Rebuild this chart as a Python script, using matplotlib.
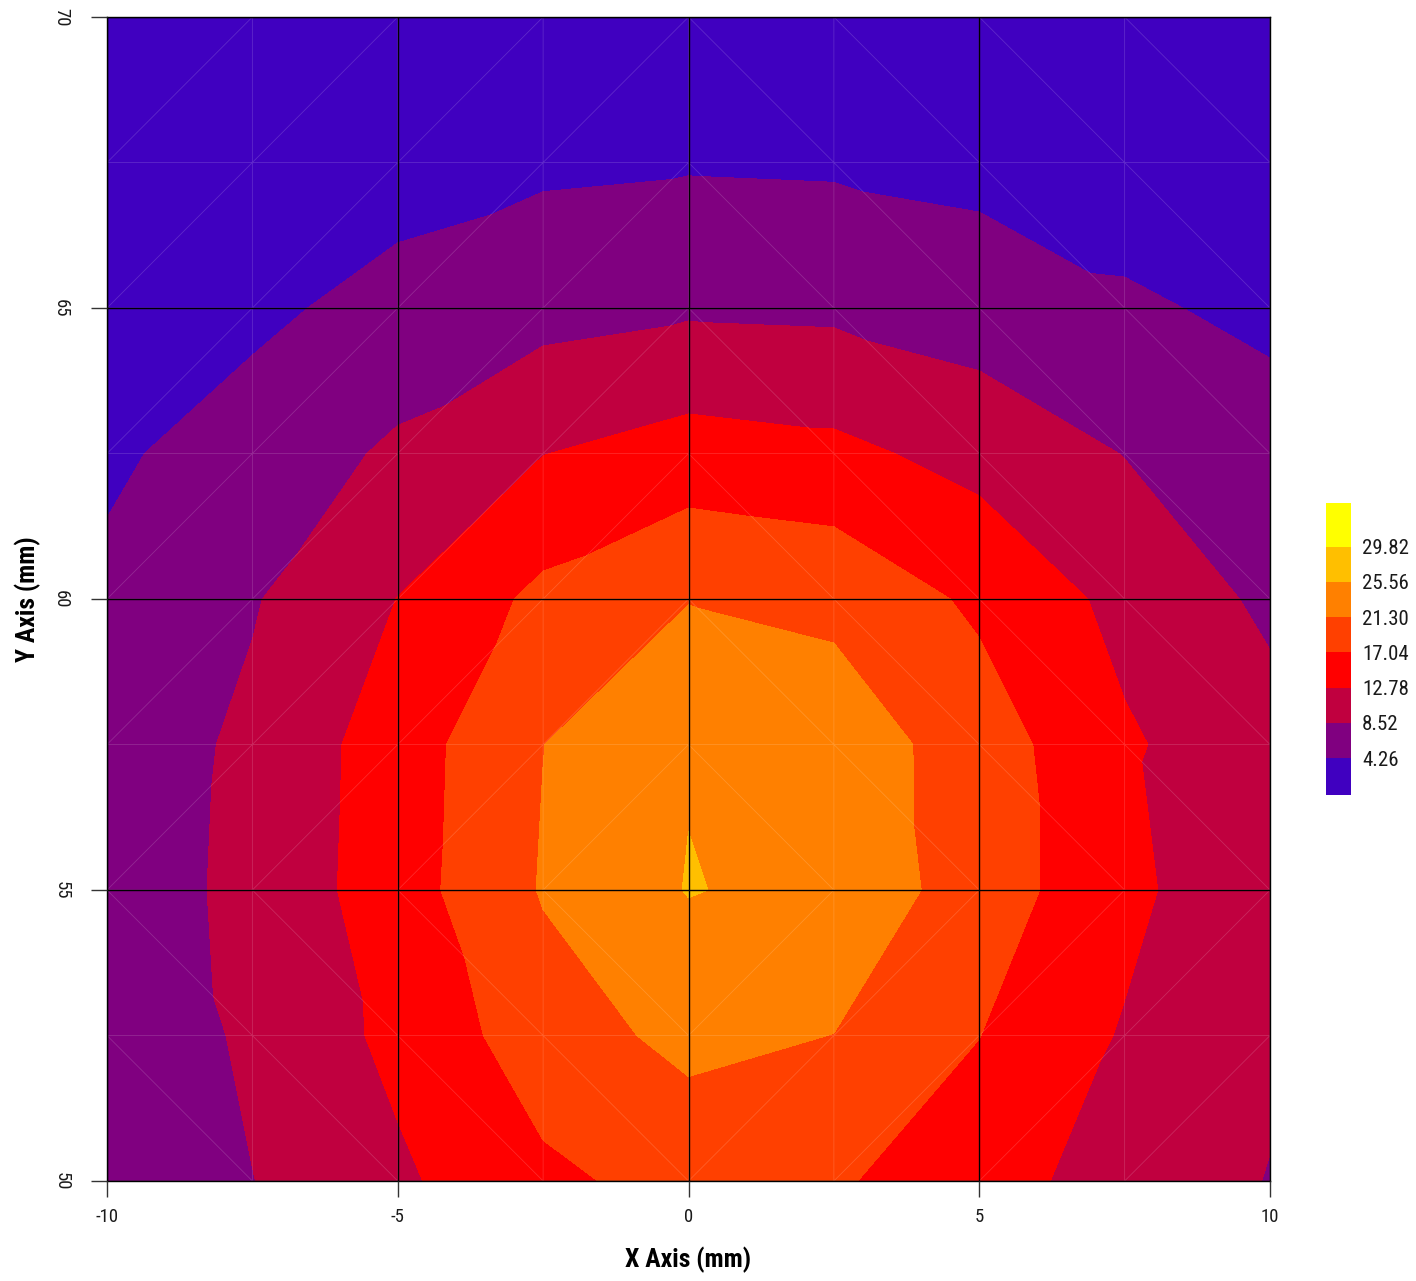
import numpy as np
import matplotlib
matplotlib.use("Agg")
import matplotlib.pyplot as plt
import matplotlib.tri as mtri
from matplotlib import font_manager

# Pick a condensed sans if available
_names = {f.name for f in font_manager.fontManager.ttflist}
FAMILY = [n for n in ["Liberation Sans Narrow", "Roboto Condensed", "Liberation Sans", "DejaVu Sans"] if n in _names]
plt.rcParams["font.family"] = FAMILY

# Measurement grid (mm)
x_mm = [-10.0, -7.5, -5.0, -2.5, 0.0, 2.5, 5.0, 7.5, 10.0]
y_mm = [50.0, 52.5, 55.0, 57.5, 60.0, 62.5, 65.0, 67.5, 70.0]

# Measured intensity, one list per row of constant Y (left to right in X)
row_y50_0 = [4.8, 8.44, 12.08, 16.16, 18.5, 17.5, 14.7, 10.77, 8.38]
row_y52_5 = [5.0, 9.3, 13.8, 19.3, 22.4, 21.25, 17.1, 12.41, 9.16]
row_y55_0 = [6.38, 9.49, 15.12, 21.61, 25.74, 24.38, 19.25, 13.94, 8.85]
row_y57_5 = [6.0, 9.35, 14.92, 21.25, 25.29, 23.78, 19.22, 13.30, 10.05]
row_y60_0 = [4.95, 8.2, 12.85, 18.07, 21.13, 20.22, 16.25, 11.61, 7.7]
row_y62_5 = [3.71, 5.84, 9.24, 12.69, 14.59, 13.81, 11.35, 8.4, 5.23]
row_y65_0 = [2.8, 3.5, 5.5, 7.05, 7.93, 7.69, 6.37, 4.6, 3.75]
row_y67_5 = [1.6, 2.2, 2.73, 3.56, 3.89, 3.72, 3.17, 3.0, 2.3]
row_y70_0 = [0.6, 0.9, 1.3, 1.6, 1.8, 1.7, 1.5, 1.3, 1.0]

# Contour levels and band colours
levels = [-0.18, 4.26, 8.52, 12.78, 17.04, 21.30, 25.56, 29.82, 35.10]
band_colors = ["#4000C0", "#800080", "#C0003F", "#FF0000",
               "#FF4000", "#FF8000", "#FFBF00", "#FFFF00"]
tick_levels = levels[1:-1]

rows = [row_y50_0, row_y52_5, row_y55_0, row_y57_5, row_y60_0,
        row_y62_5, row_y65_0, row_y67_5, row_y70_0]
Z = np.array(rows)
nx, ny = len(x_mm), len(y_mm)
XX, YY = np.meshgrid(x_mm, y_mm)
xs, ys, zs = XX.ravel(), YY.ravel(), Z.ravel()

# Triangulate each cell, with diagonals laid out around the peak location
pk = np.argmax(zs)
xc0, yc0 = xs[pk], ys[pk]
tris = []
for j in range(ny - 1):
    for i in range(nx - 1):
        bl, br = j * nx + i, j * nx + i + 1
        tl, tr = (j + 1) * nx + i, (j + 1) * nx + i + 1
        cx = 0.5 * (x_mm[i] + x_mm[i + 1])
        cy = 0.5 * (y_mm[j] + y_mm[j + 1])
        if (cx < xc0) == (cy > yc0):
            tris += [[bl, br, tr], [bl, tr, tl]]
        else:
            tris += [[bl, br, tl], [br, tr, tl]]
tri = mtri.Triangulation(xs, ys, np.array(tris))

W, H = 1416, 1281
fig = plt.figure(figsize=(W / 100, H / 100), dpi=100)
ax = fig.add_axes([107 / W, 1 - 1181 / H, (1270 - 107) / W, (1181 - 17) / H])

cs = ax.tricontourf(tri, zs, levels=levels, colors=band_colors, antialiased=False)
ax.triplot(tri, color="white", alpha=0.16, lw=0.6)

ax.set_xlim(-10, 10)
ax.set_ylim(50, 70)
ax.set_xticks([-10, -5, 0, 5, 10])
ax.set_yticks([50, 55, 60, 65, 70])
ax.set_axisbelow(False)
ax.grid(True, color="black", lw=1.0)
for s in ax.spines.values():
    s.set_color("black")
    s.set_linewidth(1.0)

ax.tick_params(direction="out", length=11.5, width=1.0, color="#333333",
               labelcolor="#1a1a1a")
ax.tick_params(axis="x", labelsize=13.5, pad=8)
ax.tick_params(axis="y", labelsize=13.5, pad=15)
ax.set_xticklabels(["-10", "-5", "0", "5", "10"])
ax.set_yticklabels(["50", "55", "60", "65", "70"], rotation=-90, va="center")

ax.set_xlabel("X Axis (mm)", fontsize=18.5, fontweight="bold")
ax.set_ylabel("Y Axis (mm)", fontsize=18.5, fontweight="bold")
ax.xaxis.set_label_coords(0.5, (1181 - 1260) / 1164)
ax.xaxis.label.set_va("center")
ax.yaxis.set_label_coords((28 - 107) / 1163, 0.5)
ax.yaxis.label.set_va("center")

cax = fig.add_axes([1326 / W, 1 - 795 / H, 25 / W, (795 - 503) / H])
cb = fig.colorbar(cs, cax=cax, ticks=tick_levels, spacing="proportional")
cb.outline.set_visible(False)
cb.set_ticklabels([f"{v:.2f}" for v in tick_levels])
cax.tick_params(length=0, labelsize=15, pad=8, labelcolor="#1a1a1a")

fig.savefig("out.png", dpi=100)
